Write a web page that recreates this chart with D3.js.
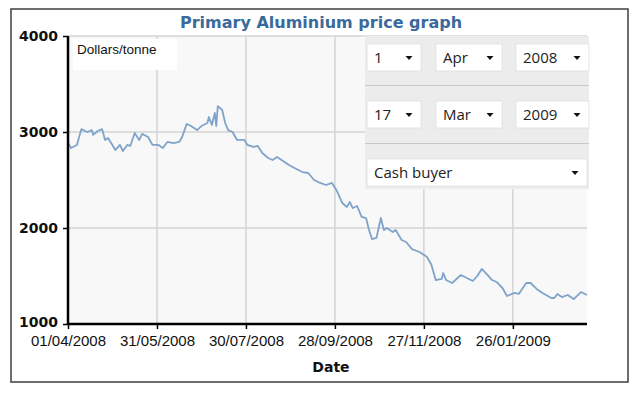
<!DOCTYPE html>
<html><head><meta charset="utf-8">
<script src="https://cdn.jsdelivr.net/npm/d3@7"></script>
<style>html,body{margin:0;padding:0;background:#fff;}svg{display:block;}</style>
</head><body>
<svg id="c" width="640" height="396"></svg>
<script>
const title = "Primary Aluminium price graph";
const yLabel = "Dollars/tonne";
const xLabel = "Date";
const dates = ["2008-04-01","2008-04-03","2008-04-07","2008-04-10","2008-04-14","2008-04-17","2008-04-18","2008-04-21","2008-04-24","2008-04-26","2008-04-28","2008-05-03","2008-05-06","2008-05-08","2008-05-11","2008-05-13","2008-05-16","2008-05-19","2008-05-21","2008-05-25","2008-05-28","2008-06-01","2008-06-04","2008-06-07","2008-06-11","2008-06-15","2008-06-17","2008-06-20","2008-06-23","2008-06-27","2008-06-30","2008-07-04","2008-07-05","2008-07-07","2008-07-09","2008-07-10","2008-07-11","2008-07-14","2008-07-16","2008-07-18","2008-07-21","2008-07-24","2008-07-29","2008-07-31","2008-08-04","2008-08-07","2008-08-10","2008-08-14","2008-08-17","2008-08-20","2008-08-24","2008-08-28","2008-09-02","2008-09-06","2008-09-10","2008-09-14","2008-09-18","2008-09-22","2008-09-26","2008-09-29","2008-10-03","2008-10-06","2008-10-08","2008-10-10","2008-10-13","2008-10-16","2008-10-19","2008-10-21","2008-10-23","2008-10-26","2008-10-29","2008-10-31","2008-11-02","2008-11-06","2008-11-08","2008-11-12","2008-11-15","2008-11-19","2008-11-24","2008-11-29","2008-12-02","2008-12-05","2008-12-09","2008-12-10","2008-12-12","2008-12-16","2008-12-22","2008-12-26","2008-12-30","2009-01-02","2009-01-05","2009-01-09","2009-01-12","2009-01-15","2009-01-19","2009-01-22","2009-01-27","2009-01-30","2009-02-04","2009-02-07","2009-02-11","2009-02-15","2009-02-21","2009-02-23","2009-02-25","2009-02-28","2009-03-04","2009-03-08","2009-03-13","2009-03-17"];
const prices = [2890,2833,2865,3030,3000,3020,2970,3010,3030,2917,2937,2813,2865,2802,2865,2855,2990,2917,2980,2948,2865,2865,2833,2896,2885,2896,2948,3083,3062,3020,3062,3094,3156,3073,3198,3062,3270,3229,3094,3020,3000,2917,2917,2865,2844,2855,2781,2729,2708,2740,2698,2656,2615,2583,2573,2500,2469,2448,2469,2396,2260,2219,2271,2208,2229,2115,2104,1979,1885,1896,2104,1979,2000,1958,1979,1875,1854,1780,1750,1700,1620,1458,1469,1531,1458,1427,1510,1479,1448,1500,1573,1510,1458,1438,1375,1292,1323,1313,1427,1427,1365,1323,1271,1271,1313,1281,1302,1260,1333,1302];
const yTicks = [1000,2000,3000,4000];
const xTickDates = ["2008-04-01","2008-05-31","2008-07-30","2008-09-28","2008-11-27","2009-01-26"];
const fromSel = ["1","Apr","2008"];
const toSel = ["17","Mar","2009"];
const seriesSel = "Cash buyer";

const parse = d3.timeParse("%Y-%m-%d");
const fmt = d3.timeFormat("%d/%m/%Y");
const data = dates.map((d,i)=>({date:parse(d), v:prices[i]}));

const svg = d3.select("#c");
const L=68, R=587, T=36, B=324;
const x = d3.scaleTime().domain([parse("2008-04-01"), parse("2009-03-17")]).range([L,R]);
const y = d3.scaleLinear().domain([1000,4000]).range([B,T]);

// outer frame
svg.append("rect").attr("x",11).attr("y",9).attr("width",617).attr("height",373)
  .attr("fill","#fff").attr("stroke","#4a4a4a").attr("stroke-width",1.6);

// title
svg.append("text").attr("x",321).attr("y",28).attr("text-anchor","middle")
  .attr("font-family","DejaVu Sans").attr("font-weight","bold").attr("font-size",16)
  .attr("fill","#3a6a9b").text(title);

// plot background
svg.append("rect").attr("x",L).attr("y",T).attr("width",R-L).attr("height",B-T).attr("fill","#f8f8f8");

// grid
const xt = xTickDates.map(parse);
svg.append("g").selectAll("line").data(xt).join("line")
  .attr("x1",d=>x(d)).attr("x2",d=>x(d)).attr("y1",T).attr("y2",B)
  .attr("stroke","#d4d4d4").attr("stroke-width",1.5);
svg.append("g").selectAll("line").data(yTicks.filter(t=>t>1000)).join("line")
  .attr("x1",L).attr("x2",R).attr("y1",d=>y(d)).attr("y2",d=>y(d))
  .attr("stroke","#d4d4d4").attr("stroke-width",1.5);

// line
svg.append("path").datum(data)
  .attr("d", d3.line().x(d=>x(d.date)).y(d=>y(d.v)))
  .attr("fill","none").attr("stroke","#7fa3c9").attr("stroke-width",1.8).attr("stroke-linejoin","round");

// axes
const ya = svg.append("g").attr("transform",`translate(${L},0)`)
  .call(d3.axisLeft(y).tickValues(yTicks).tickSize(5).tickPadding(5).tickFormat(d3.format("d")));
ya.select(".domain").attr("stroke","#000").attr("stroke-width",2.5).attr("d",`M0,${T}V${B}`);
ya.selectAll(".tick line").attr("stroke","#000").attr("stroke-width",1.5);
ya.selectAll("text").attr("font-family","DejaVu Sans").attr("font-weight","bold").attr("font-size",14).attr("fill","#111")
  .attr("dy", d => d===1000 ? "0.2em" : "0.32em");

const xa = svg.append("g").attr("transform",`translate(0,${B})`)
  .call(d3.axisBottom(x).tickValues(xt).tickSize(5).tickPadding(6).tickFormat(fmt));
xa.select(".domain").attr("stroke","#000").attr("stroke-width",2.5).attr("d",`M${L},0H${R}`);
xa.selectAll(".tick line").attr("stroke","#000").attr("stroke-width",1.5);
xa.selectAll("text").attr("font-family","Liberation Sans").attr("font-size",15).attr("fill","#111");

// axis title
svg.append("text").attr("x",331).attr("y",372).attr("text-anchor","middle")
  .attr("font-family","DejaVu Sans").attr("font-weight","bold").attr("font-size",14).attr("fill","#111").text(xLabel);

// y unit label box
svg.append("rect").attr("x",73).attr("y",39).attr("width",104).attr("height",31).attr("fill","#fff");
svg.append("text").attr("x",77).attr("y",54).attr("font-family","Liberation Sans").attr("font-size",13.5)
  .attr("fill","#111").text(yLabel);

// control panel
const panel = svg.append("g");
panel.append("rect").attr("x",365).attr("y",36).attr("width",224).attr("height",153).attr("fill","#ececec");
panel.append("line").attr("x1",365).attr("x2",589).attr("y1",85.5).attr("y2",85.5).attr("stroke","#c8c8c8");
panel.append("line").attr("x1",365).attr("x2",589).attr("y1",143.5).attr("y2",143.5).attr("stroke","#c8c8c8");
const boxes = [[367,54],[436,66],[516,73]];
function selects(vals, top){
  vals.forEach((v,i)=>{
    const [bx,bw]=boxes[i];
    panel.append("rect").attr("x",bx).attr("y",top).attr("width",bw).attr("height",27)
      .attr("fill","#fff").attr("stroke","#dedede").attr("stroke-width",0.8);
    panel.append("text").attr("x",bx+7).attr("y",top+19).attr("font-family","Open Sans").attr("font-size",15)
      .attr("fill","#222").text(v);
    const ax=bx+bw-12, ay=top+12;
    panel.append("path").attr("d",`M${ax-3.5},${ay}H${ax+3.5}L${ax},${ay+4}Z`).attr("fill","#111");
  });
}
selects(fromSel,44);
selects(toSel,101);
panel.append("rect").attr("x",367).attr("y",159).attr("width",220).attr("height",27)
  .attr("fill","#fff").attr("stroke","#dedede").attr("stroke-width",0.8);
panel.append("text").attr("x",374).attr("y",178).attr("font-family","Open Sans").attr("font-size",15)
  .attr("fill","#222").text(seriesSel);
panel.append("path").attr("d",`M571.5,171H578.5L575,175Z`).attr("fill","#111");
</script>
</body></html>
